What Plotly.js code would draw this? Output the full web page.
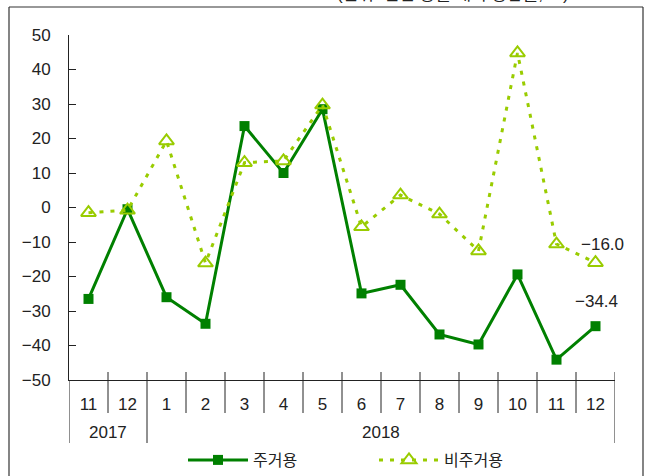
<!DOCTYPE html>
<html>
<head>
<meta charset="utf-8">
<script src="https://cdn.plot.ly/plotly-3.0.1.min.js"></script>
<style>html,body{margin:0;padding:0;background:#fff;}#chart{width:646px;height:476px;}</style>
</head>
<body>
<div id="chart"></div>
<script>
// ---- data ----
const months = ["11","12","1","2","3","4","5","6","7","8","9","10","11","12"];
const yearOf = ["2017","2017","2018","2018","2018","2018","2018","2018","2018","2018","2018","2018","2018","2018"];
const residential = [-26.5, -0.5, -26.0, -33.7, 23.6, 10.0, 28.5, -24.9, -22.4, -36.8, -39.7, -19.4, -44.1, -34.4];
const nonResidential = [-1.5, -0.8, 19.3, -16.1, 13.0, 13.5, 29.7, -5.6, 3.6, -1.9, -12.6, 44.8, -10.6, -16.0];
const seriesNames = ["주거용", "비주거용"];
const unitText = "(단위: 전년 동월 대비 증감률, %)";

// ---- layout helpers ----
const W = 646, H = 476;
const mL = 69, mR = 31, mT = 35, mB = 96;
const plotH = H - mT - mB;
const pyFromPx = px => (H - mB - px) / plotH;          // paper y from pixel y
const pxX = px => (px - mL) / (W - mL - mR);            // paper x from pixel x
const FONT = "Liberation Sans, Arial, Noto Sans CJK KR, sans-serif";
const GREEN = "#008000", LIME = "#99cc00";

const xIdx = months.map((_, i) => i);

const fmt = v => (v < 0 ? "\u2212" : "") + Math.abs(v).toFixed(1);

const traces = [
  {
    x: xIdx, y: residential, name: seriesNames[0], type: "scatter", mode: "lines+markers",
    line: {color: GREEN, width: 3},
    marker: {symbol: "square", size: 10, color: GREEN},
    cliponaxis: false
  },
  {
    x: xIdx, y: nonResidential, name: seriesNames[1], type: "scatter", mode: "lines+markers",
    line: {color: LIME, width: 3, dash: "4px,7px"},
    marker: {symbol: "triangle-up-open", size: 13, color: LIME, line: {color: LIME, width: 2}},
    cliponaxis: false
  }
];

const shapes = [];
const lineStyle = {color: "#222", width: 1};
// month boundaries
for (let i = 0; i < months.length - 1; i++) {
  if (yearOf[i] !== yearOf[i + 1]) continue;
  shapes.push({type: "line", xref: "x", yref: "paper", x0: i + 0.5, x1: i + 0.5,
    y0: pyFromPx(372), y1: pyFromPx(413), line: lineStyle});
}
// year boundaries and year labels
const annotations = [];
let start = 0;
for (let i = 0; i <= months.length; i++) {
  if (i === months.length || yearOf[i] !== yearOf[start]) {
    annotations.push({xref: "x", yref: "paper", x: (start - 0.5 + i - 0.5) / 2, y: pyFromPx(432),
      text: yearOf[start], showarrow: false, font: {family: FONT, size: 17, color: "#222"},
      xanchor: "center", yanchor: "middle"});
    if (i < months.length) {
      shapes.push({type: "line", xref: "x", yref: "paper", x0: i - 0.5, x1: i - 0.5,
        y0: pyFromPx(372), y1: pyFromPx(443), line: lineStyle});
    }
    start = i;
  }
}
// outer ends
shapes.push({type: "line", xref: "x", yref: "paper", x0: -0.5, x1: -0.5, y0: 0, y1: pyFromPx(443), line: lineStyle});
shapes.push({type: "line", xref: "x", yref: "paper", x0: months.length - 0.5, x1: months.length - 0.5,
  y0: pyFromPx(372), y1: pyFromPx(443), line: lineStyle});
// outer frame
shapes.push({type: "line", xref: "paper", yref: "paper", x0: pxX(9), x1: pxX(9), y0: pyFromPx(7), y1: pyFromPx(490), line: {color: "#333", width: 1.2}});
shapes.push({type: "line", xref: "paper", yref: "paper", x0: pxX(9), x1: pxX(643), y0: pyFromPx(7), y1: pyFromPx(7), line: {color: "#333", width: 1.2}});
shapes.push({type: "line", xref: "paper", yref: "paper", x0: pxX(643), x1: pxX(643), y0: pyFromPx(7), y1: pyFromPx(490), line: {color: "#333", width: 1.2}});

// end value labels
const last = months.length - 1;
annotations.push({xref: "x", yref: "y", x: last, y: nonResidential[last], text: fmt(nonResidential[last]),
  showarrow: false, xshift: 7, yshift: 18, font: {family: FONT, size: 17, color: "#222"}});
annotations.push({xref: "x", yref: "y", x: last, y: residential[last], text: fmt(residential[last]),
  showarrow: false, xshift: 1, yshift: 25, font: {family: FONT, size: 17, color: "#222"}});
// unit text (cut off at top, as in the reference)
annotations.push({xref: "paper", yref: "paper", x: pxX(453), y: pyFromPx(6), text: unitText,
  showarrow: false, xanchor: "center", yanchor: "bottom", font: {family: FONT, size: 17, color: "#222"}});

const layout = {
  width: W, height: H,
  margin: {l: mL, r: mR, t: mT, b: mB, pad: 0, autoexpand: false},
  paper_bgcolor: "#fff", plot_bgcolor: "#fff",
  font: {family: FONT, size: 17, color: "#222"},
  showlegend: true,
  legend: {orientation: "h", x: pxX(183), xanchor: "left", y: pyFromPx(460), yanchor: "middle",
    font: {family: FONT, size: 16, color: "#222"}, itemwidth: 60,
    entrywidth: 116, entrywidthmode: "pixels", bgcolor: "rgba(0,0,0,0)"},
  xaxis: {
    range: [-0.5, months.length - 0.5], tickmode: "array", tickvals: xIdx, ticktext: months,
    showgrid: false, zeroline: false, showline: true, linecolor: "#222", linewidth: 1,
    ticks: "", ticklabelstandoff: 9, tickfont: {family: FONT, size: 17, color: "#222"}, fixedrange: true
  },
  yaxis: {
    range: [-50, 50], dtick: 10, tick0: 0, showgrid: false, zeroline: false,
    showline: true, linecolor: "#222", linewidth: 1,
    ticks: "inside", ticklen: 7, tickcolor: "#222", ticklabelstandoff: 14,
    tickfont: {family: FONT, size: 17, color: "#222"}, fixedrange: true
  },
  shapes: shapes,
  annotations: annotations
};

Plotly.newPlot("chart", traces, layout, {displayModeBar: false, staticPlot: true});
</script>
</body>
</html>
